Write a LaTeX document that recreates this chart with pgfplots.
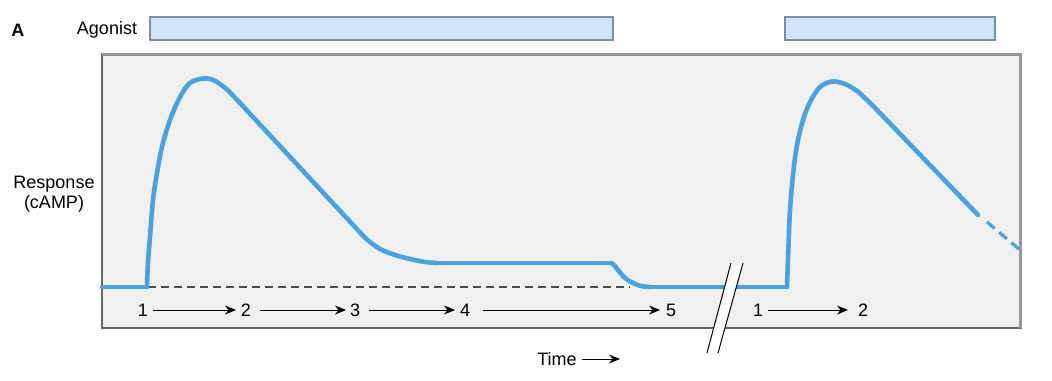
\documentclass[border=0pt]{standalone}
\usepackage{pgfplots}
\pgfplotsset{compat=1.18}
\usetikzlibrary{arrows.meta}
\usepackage{fontspec}
\setmainfont{Liberation Sans}
\definecolor{curve}{RGB}{74,163,222}
\definecolor{boxfill}{RGB}{240,240,240}
\definecolor{barfill}{RGB}{207,228,246}
\definecolor{barline}{RGB}{128,142,155}
\definecolor{shadow}{RGB}{150,150,150}
\begin{document}
\fontsize{9}{10}\selectfont
\begin{tikzpicture}
\begin{axis}[
  x=0.5pt, y=0.5pt,
  xmin=102, xmax=1021, ymin=52, ymax=326,
  scale only axis,
  axis line style={draw=black!60, line width=0.6pt},
  axis background/.style={fill=boxfill},
  ticks=none,
  clip=false,
  resp/.style={curve, line width=2.3pt, line cap=round, line join=round},
]
% invisible frame for the picture size
\path (axis cs:0,0) rectangle (axis cs:1052,380);
% shadow on top and right edges
\draw[shadow, line width=1.8pt] (axis cs:102,325.5) -- (axis cs:1020.5,325.5) -- (axis cs:1020.5,52);
% agonist bars
\addplot[fill=barfill, draw=barline, line width=0.6pt] coordinates {(150,340) (613,340) (613,363) (150,363)} -- cycle;
\addplot[fill=barfill, draw=barline, line width=0.6pt] coordinates {(785,340) (995,340) (995,363) (785,363)} -- cycle;
% baseline (dashed)
\addplot[black!70, line width=0.6pt, dash pattern=on 4pt off 2.5pt] coordinates {(148,93) (630,93)};
% response curve, first agonist exposure
\addplot[resp] coordinates {(102,93) (147,93)};
\addplot[resp, smooth, tension=0.55] coordinates {
 (147,93) (147.6,110) (148.5,125) (150,143) (153,180) (157,207) (162,233)
 (170,260) (180,283) (190,297) (203,301.5) (212,300.5) (220,296) (228,289.5) (234,283.3) (240,277)};
\addplot[resp] coordinates {(240,277) (355,153)};
\addplot[resp, smooth, tension=0.55] coordinates {
 (355,153) (361,146.5) (367,140.5) (380,131) (395,125) (410,121) (425,118) (437,117)};
\addplot[resp] coordinates {(437,117) (611,117)};
\addplot[resp, smooth, tension=0.55] coordinates {
 (611,117) (614,115) (618,110) (625,102) (633,97) (641,94) (650,93)};
\addplot[resp] coordinates {(650,93) (787,93)};
% second agonist exposure
\addplot[resp, smooth, tension=0.55] coordinates {
 (787,93) (787.6,110) (788.5,135) (790,170) (793,205) (797,235) (803,260)
 (810,278) (820,293) (832,298.5) (845,296) (857,289) (867,280) (877,270) (884,262.7) (890,256.5)};
\addplot[resp] coordinates {(890,256.5) (978,165)};
\addplot[curve, line width=1.6pt, dash pattern=on 5pt off 3pt] coordinates {(987,158) (1020,130)};
% axis break
\addplot[fill=white, draw=none] coordinates {(707,27) (731,117) (743,117) (718,27)} -- cycle;
\addplot[black, line width=0.5pt] coordinates {(707,27) (731,117)};
\addplot[black, line width=0.5pt] coordinates {(718,27) (743,117)};
% step labels
\node at (axis cs:143,70) {1};
\draw[-{Stealth[length=5.5pt,width=4.5pt]}, line width=0.5pt] (axis cs:153,70) -- (axis cs:236,70);
\node at (axis cs:246,70) {2};
\draw[-{Stealth[length=5.5pt,width=4.5pt]}, line width=0.5pt] (axis cs:260,70) -- (axis cs:346,70);
\node at (axis cs:355,70) {3};
\draw[-{Stealth[length=5.5pt,width=4.5pt]}, line width=0.5pt] (axis cs:369,70) -- (axis cs:455,70);
\node at (axis cs:465,70) {4};
\draw[-{Stealth[length=5.5pt,width=4.5pt]}, line width=0.5pt] (axis cs:483,70) -- (axis cs:660,70);
\node at (axis cs:671,70) {5};
\node at (axis cs:758,70) {1};
\draw[-{Stealth[length=5.5pt,width=4.5pt]}, line width=0.5pt] (axis cs:768,70) -- (axis cs:848,70);
\node at (axis cs:863,70) {2};
% texts
\node at (axis cs:18,350) {\textbf{A}};
\node at (axis cs:107,350) {Agonist};
\node[align=center, inner sep=0pt] at (axis cs:54,186) {Response\\(cAMP)};
\node at (axis cs:557,21) {Time};
\draw[-{Stealth[length=5.5pt,width=4.5pt]}, line width=0.5pt] (axis cs:582,21) -- (axis cs:620,21);
\end{axis}
\end{tikzpicture}
\end{document}
